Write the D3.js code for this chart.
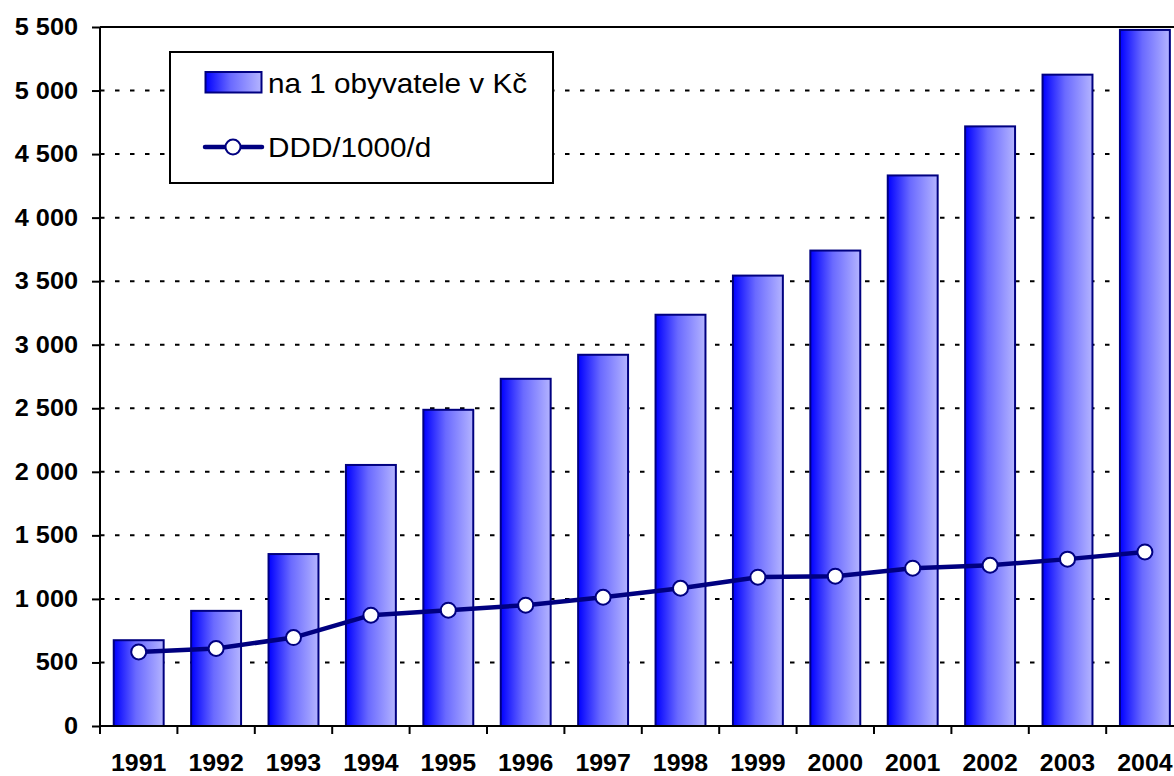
<!DOCTYPE html>
<html>
<head>
<meta charset="utf-8">
<script src="https://cdn.jsdelivr.net/npm/d3@7/dist/d3.min.js"></script>
<style>
  html, body { margin: 0; padding: 0; background: #fff; }
  svg { display: block; }
  text { font-family: "Liberation Sans", Arial, sans-serif; }
</style>
</head>
<body>
<svg id="chart" width="1174" height="776"></svg>
<script>
const years = ["1991","1992","1993","1994","1995","1996","1997","1998","1999","2000","2001","2002","2003","2004"];
const costPerCapita = [675, 906, 1353, 2054, 2488, 2732, 2921, 3236, 3544, 3741, 4332, 4718, 5125, 5477];
const dddPer1000 = [583, 610, 696, 872, 911, 951, 1013, 1084, 1171, 1179, 1242, 1265, 1313, 1370];
const yTicks = [0, 500, 1000, 1500, 2000, 2500, 3000, 3500, 4000, 4500, 5000, 5500];
const seriesNames = ["na 1 obyvatele v Kč", "DDD/1000/d"];

(function () {
const svg = d3.select("#chart");
const pLeft = 100, pTop = 27, pBottom = 726, pRight = 1183.6;
const navy = "#000080";

const x = d3.scaleBand().domain(years).range([pLeft, pRight]).paddingInner(0.355).paddingOuter(0.1775);
const y = d3.scaleLinear().domain([0, 5500]).range([pBottom, pTop]);
const fmt = v => d3.format(",")(v).replace(/,/g, " ");

const defs = svg.append("defs");
const grad = defs.append("linearGradient").attr("id", "barGrad").attr("x1", "0").attr("x2", "1").attr("y1", "0").attr("y2", "0");
grad.append("stop").attr("offset", "0%").attr("stop-color", "#0000ff");
grad.append("stop").attr("offset", "45%").attr("stop-color", "#6a6aff");
grad.append("stop").attr("offset", "100%").attr("stop-color", "#b4b4ff");

// gridlines
svg.append("g").selectAll("line").data(yTicks.filter(d => d > 0 && d < 5500)).join("line")
  .attr("x1", pLeft).attr("x2", 1174).attr("y1", d => y(d)).attr("y2", d => y(d))
  .attr("stroke", "#000").attr("stroke-width", 2).attr("stroke-dasharray", "4.5,10.5");
svg.append("line").attr("x1", pLeft).attr("x2", 1174).attr("y1", y(5500)).attr("y2", y(5500))
  .attr("stroke", "#000").attr("stroke-width", 2);

// bars
svg.append("g").selectAll("rect").data(years).join("rect")
  .attr("x", d => x(d)).attr("width", x.bandwidth())
  .attr("y", (d, i) => y(costPerCapita[i])).attr("height", (d, i) => y(0) - y(costPerCapita[i]))
  .attr("fill", "url(#barGrad)").attr("stroke", navy).attr("stroke-width", 2);

// axes
const yAxis = svg.append("g").attr("transform", `translate(${pLeft},0)`)
  .call(d3.axisLeft(y).tickValues(yTicks).tickSize(8).tickFormat(""));
yAxis.select(".domain").remove();
yAxis.selectAll("line").attr("stroke", "#000").attr("stroke-width", 2);
svg.append("line").attr("x1", pLeft).attr("x2", pLeft).attr("y1", pTop).attr("y2", pBottom + 1)
  .attr("stroke", "#000").attr("stroke-width", 2);

svg.append("g").selectAll("text").data(yTicks).join("text")
  .attr("transform", d => `translate(78,${y(d) + 8}) scale(1.1,1)`)
  .attr("text-anchor", "end").attr("font-size", 23).attr("font-weight", "bold").attr("fill", "#000")
  .text(fmt);

const bounds = years.map(d => x(d) - x.step() * 0.1775).concat([pRight]);
svg.append("g").selectAll("line").data(bounds).join("line")
  .attr("x1", d => d).attr("x2", d => d).attr("y1", pBottom).attr("y2", pBottom + 8)
  .attr("stroke", "#000").attr("stroke-width", 2);
svg.append("line").attr("x1", pLeft - 1).attr("x2", 1174).attr("y1", pBottom).attr("y2", pBottom)
  .attr("stroke", "#000").attr("stroke-width", 2);

svg.append("g").selectAll("text").data(years).join("text")
  .attr("transform", d => `translate(${x(d) + x.bandwidth() / 2},770.5) scale(1.06,1)`)
  .attr("text-anchor", "middle").attr("font-size", 23.5).attr("font-weight", "bold").attr("fill", "#000")
  .text(d => d);

// line series
const cx = d => x(d) + x.bandwidth() / 2;
svg.append("path").datum(years)
  .attr("d", d3.line().x(cx).y((d, i) => y(dddPer1000[i])))
  .attr("fill", "none").attr("stroke", navy).attr("stroke-width", 4.5).attr("stroke-linejoin", "round");
svg.append("g").selectAll("circle").data(years).join("circle")
  .attr("cx", cx).attr("cy", (d, i) => y(dddPer1000[i])).attr("r", 7.5)
  .attr("fill", "#fff").attr("stroke", navy).attr("stroke-width", 2);

// legend
const lg = svg.append("g");
lg.append("rect").attr("x", 170).attr("y", 52).attr("width", 383).attr("height", 131)
  .attr("fill", "#fff").attr("stroke", "#000").attr("stroke-width", 2);
lg.append("rect").attr("x", 205.5).attr("y", 72).attr("width", 56).attr("height", 20.5)
  .attr("fill", "url(#barGrad)").attr("stroke", navy).attr("stroke-width", 2);
lg.append("line").attr("x1", 205).attr("x2", 262).attr("y1", 147).attr("y2", 147)
  .attr("stroke", navy).attr("stroke-width", 4.5).attr("stroke-linecap", "round");
lg.append("circle").attr("cx", 233).attr("cy", 147).attr("r", 7.5)
  .attr("fill", "#fff").attr("stroke", navy).attr("stroke-width", 2);
lg.selectAll("text.lbl").data(seriesNames).join("text").attr("class", "lbl")
  .attr("transform", (d, i) => `translate(268,${i === 0 ? 93 : 157}) scale(1.08,1)`)
  .attr("font-size", 27.5).attr("fill", "#000").text(d => d);
})();
</script>
</body>
</html>
